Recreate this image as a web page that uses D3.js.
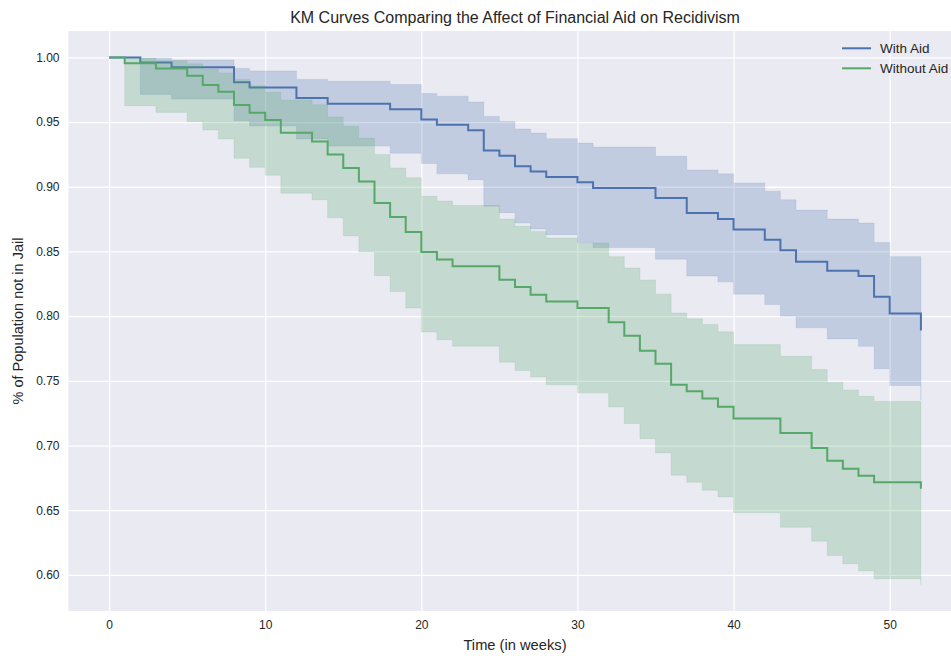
<!DOCTYPE html>
<html>
<head>
<meta charset="utf-8">
<script src="https://cdn.jsdelivr.net/npm/d3@7/dist/d3.min.js"></script>
<style>
  html, body { margin: 0; padding: 0; background: #ffffff; }
  svg { display: block; }
  text { font-family: "Liberation Sans", Arial, sans-serif; fill: #262626; }
</style>
</head>
<body>
<svg id="chart" width="951" height="656"></svg>
<script>
// ---------------- data ----------------
const seriesNames = ["With Aid", "Without Aid"];

const weeksWithAid = [0, 2, 4, 8, 9, 12, 14, 18, 20, 21, 23, 24, 25, 26, 27, 28, 30, 31, 35, 37, 39, 40, 42, 43, 44, 46, 48, 49, 50, 52];
const survivalWithAid = [1.0, 0.9961, 0.9923, 0.9807, 0.9768, 0.9686, 0.9642, 0.960, 0.9519, 0.948, 0.9436, 0.928, 0.924, 0.9158, 0.9119, 0.9076, 0.9034, 0.899, 0.8913, 0.8797, 0.875, 0.867, 0.859, 0.851, 0.842, 0.835, 0.831, 0.815, 0.802, 0.789];
const lowerWithAid = [1.0, 0.9714, 0.9678, 0.951, 0.947, 0.937, 0.9315, 0.926, 0.918, 0.910, 0.9055, 0.885, 0.880, 0.872, 0.8674, 0.863, 0.857, 0.853, 0.844, 0.831, 0.8265, 0.817, 0.809, 0.800, 0.791, 0.7824, 0.7767, 0.7594, 0.7463, 0.735];
const upperWithAid = [1.0, 0.9995, 0.998, 0.9915, 0.9895, 0.983, 0.9815, 0.979, 0.972, 0.970, 0.9655, 0.9544, 0.9505, 0.9446, 0.9416, 0.9372, 0.9338, 0.9307, 0.9235, 0.913, 0.910, 0.903, 0.8965, 0.890, 0.882, 0.875, 0.872, 0.857, 0.846, 0.835];

const weeksWithoutAid = [0, 1, 3, 5, 6, 7, 8, 9, 10, 11, 13, 14, 15, 16, 17, 18, 19, 20, 21, 22, 25, 26, 27, 28, 30, 32, 33, 34, 35, 36, 37, 38, 39, 40, 43, 45, 46, 47, 48, 49, 52];
const survivalWithoutAid = [1.0, 0.9954, 0.9915, 0.9859, 0.9787, 0.9735, 0.9632, 0.9573, 0.9516, 0.9418, 0.935, 0.925, 0.9145, 0.904, 0.8875, 0.8767, 0.865, 0.8496, 0.8437, 0.8385, 0.8282, 0.8226, 0.8166, 0.8114, 0.8063, 0.7952, 0.7849, 0.7733, 0.7633, 0.747, 0.742, 0.7364, 0.730, 0.7208, 0.7097, 0.698, 0.6883, 0.682, 0.6767, 0.6716, 0.6665];
const lowerWithoutAid = [1.0, 0.9627, 0.9575, 0.9503, 0.9439, 0.9369, 0.922, 0.915, 0.909, 0.895, 0.890, 0.876, 0.862, 0.8496, 0.8313, 0.819, 0.8063, 0.7878, 0.7818, 0.7767, 0.7643, 0.758, 0.753, 0.747, 0.7407, 0.7298, 0.717, 0.7053, 0.6943, 0.677, 0.6716, 0.6654, 0.6603, 0.648, 0.6368, 0.626, 0.615, 0.6087, 0.6033, 0.597, 0.5925];
const upperWithoutAid = [1.0, 0.9993, 0.9975, 0.995, 0.991, 0.988, 0.983, 0.978, 0.973, 0.967, 0.9634, 0.954, 0.9467, 0.9377, 0.925, 0.9145, 0.907, 0.8926, 0.889, 0.8855, 0.8751, 0.8694, 0.8655, 0.8604, 0.8566, 0.846, 0.8372, 0.828, 0.817, 0.8025, 0.798, 0.7935, 0.788, 0.778, 0.769, 0.7587, 0.749, 0.743, 0.738, 0.734, 0.727];

const xTicks = [0, 10, 20, 30, 40, 50];
const yTicks = [0.60, 0.65, 0.70, 0.75, 0.80, 0.85, 0.90, 0.95, 1.00];

const titleText = "KM Curves Comparing the Affect of Financial Aid on Recidivism";
const xLabelText = "Time (in weeks)";
const yLabelText = "% of Population not in Jail";

// ---------------- layout ----------------
const colors = ["#4C72B0", "#55A868"];
const plot = { left: 68.5, right: 961.5, top: 31, bottom: 611 };

const svg = d3.select("#chart");

const x = d3.scaleLinear().domain([-2.6, 54.6]).range([plot.left, plot.right]);
const y = d3.scaleLinear().domain([0.5721, 1.0204]).range([plot.bottom, plot.top]);

// background
svg.append("rect")
  .attr("x", plot.left).attr("y", plot.top)
  .attr("width", plot.right - plot.left).attr("height", plot.bottom - plot.top)
  .attr("fill", "#EAEAF2");

// grid lines (via axes)
const gx = svg.append("g")
  .attr("transform", `translate(0,${plot.bottom})`)
  .call(d3.axisBottom(x).tickValues(xTicks).tickSize(-(plot.bottom - plot.top)).tickFormat(""));
gx.select(".domain").remove();
gx.selectAll("line").attr("stroke", "#ffffff").attr("stroke-width", 1.3);

const gy = svg.append("g")
  .attr("transform", `translate(${plot.left},0)`)
  .call(d3.axisLeft(y).tickValues(yTicks).tickSize(-(plot.right - plot.left)).tickFormat(""));
gy.select(".domain").remove();
gy.selectAll("line").attr("stroke", "#ffffff").attr("stroke-width", 1.3);

// series
const series = [
  { name: seriesNames[0], t: weeksWithAid, s: survivalWithAid, lo: lowerWithAid, hi: upperWithAid, color: colors[0] },
  { name: seriesNames[1], t: weeksWithoutAid, s: survivalWithoutAid, lo: lowerWithoutAid, hi: upperWithoutAid, color: colors[1] }
];

const area = d3.area()
  .curve(d3.curveStepAfter)
  .x(d => x(d.t))
  .y0(d => y(d.lo))
  .y1(d => y(d.hi));

const line = d3.line()
  .curve(d3.curveStepAfter)
  .x(d => x(d.t))
  .y(d => y(d.s));

series.forEach(ser => {
  const pts = ser.t.map((t, i) => ({ t: t, s: ser.s[i], lo: ser.lo[i], hi: ser.hi[i] }));
  svg.append("path")
    .datum(pts)
    .attr("d", area)
    .attr("fill", ser.color)
    .attr("fill-opacity", 0.25)
    .attr("stroke", ser.color)
    .attr("stroke-opacity", 0.12)
    .attr("stroke-width", 1);
  svg.append("path")
    .datum(pts)
    .attr("d", line)
    .attr("fill", "none")
    .attr("stroke", ser.color)
    .attr("stroke-width", 2);
});

// tick labels
const xl = svg.append("g")
  .attr("transform", `translate(0,${plot.bottom})`)
  .call(d3.axisBottom(x).tickValues(xTicks).tickSize(0).tickPadding(9).tickFormat(d3.format("d")));
xl.select(".domain").remove();
xl.selectAll("text").attr("font-size", 12).attr("fill", "#262626")
  .style("font-family", "'Liberation Sans', Arial, sans-serif");

const yl = svg.append("g")
  .attr("transform", `translate(${plot.left},0)`)
  .call(d3.axisLeft(y).tickValues(yTicks).tickSize(0).tickPadding(9).tickFormat(d3.format(".2f")));
yl.select(".domain").remove();
yl.selectAll("text").attr("font-size", 12).attr("fill", "#262626")
  .style("font-family", "'Liberation Sans', Arial, sans-serif");

// title & axis labels
svg.append("text")
  .attr("x", (plot.left + plot.right) / 2).attr("y", 23)
  .attr("text-anchor", "middle").attr("font-size", 16)
  .text(titleText);

svg.append("text")
  .attr("x", (plot.left + plot.right) / 2).attr("y", 650)
  .attr("text-anchor", "middle").attr("font-size", 14.7)
  .text(xLabelText);

svg.append("text")
  .attr("transform", `translate(23,${(plot.top + plot.bottom) / 2}) rotate(-90)`)
  .attr("text-anchor", "middle").attr("font-size", 14.5)
  .text(yLabelText);

// legend
const legend = svg.append("g");
series.forEach((ser, i) => {
  const ly = 48.3 + i * 20;
  legend.append("line")
    .attr("x1", 842).attr("x2", 871).attr("y1", ly).attr("y2", ly)
    .attr("stroke", ser.color).attr("stroke-width", 2);
  legend.append("text")
    .attr("x", 880).attr("y", ly).attr("dy", "0.35em")
    .attr("font-size", 13.5)
    .text(ser.name);
});
</script>
</body>
</html>
